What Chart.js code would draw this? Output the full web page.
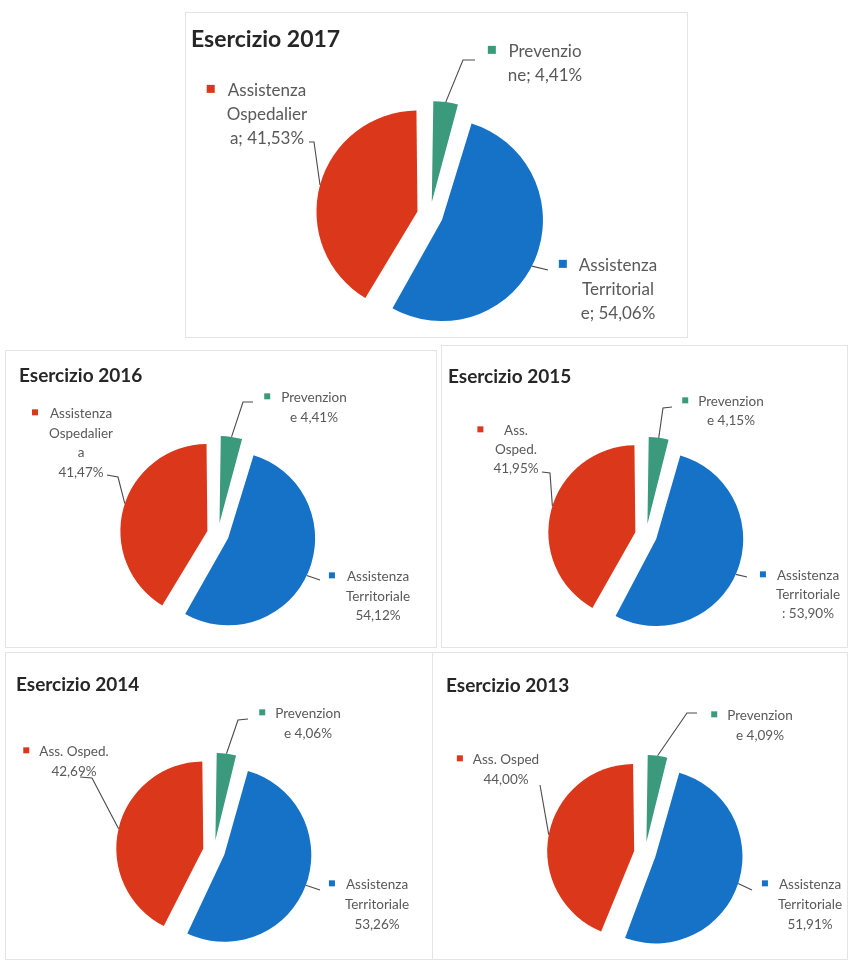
<!DOCTYPE html>
<html>
<head>
<meta charset="utf-8">
<script src="https://cdn.jsdelivr.net/npm/chart.js@4.4.1/dist/chart.umd.min.js"></script>
<style>
  body { margin: 0; background: #fff; width: 848px; height: 960px; position: relative; overflow: hidden; }
  .panel { position: absolute; background: #fff; outline: 1px solid #e4e4e4; outline-offset: -1px; }
  .panel canvas { position: absolute; left: 0; top: 0; }
</style>
</head>
<body>
<script>
// values (percent shares per year)
const years = ['2017', '2016', '2015', '2014', '2013'];
const categories = ['Prevenzione', 'Assistenza Territoriale', 'Assistenza Ospedaliera'];
const prevenzione = [4.41, 4.41, 4.15, 4.06, 4.09];
const territoriale = [54.06, 54.12, 53.90, 53.26, 51.91];
const ospedaliera = [41.53, 41.47, 41.95, 42.69, 44.00];

// data label text as it is wrapped in each chart, {v} = value
const labelText = {
  '2017': [['Prevenzio', 'ne; {v}'], ['Assistenza', 'Territorial', 'e; {v}'], ['Assistenza', 'Ospedalier', 'a; {v}']],
  '2016': [['Prevenzion', 'e {v}'], ['Assistenza', 'Territoriale', '{v}'], ['Assistenza', 'Ospedalier', 'a', '{v}']],
  '2015': [['Prevenzion', 'e {v}'], ['Assistenza', 'Territoriale', ': {v}'], ['Ass.', 'Osped.', '{v}']],
  '2014': [['Prevenzion', 'e {v}'], ['Assistenza', 'Territoriale', '{v}'], ['Ass. Osped.', '{v}']],
  '2013': [['Prevenzion', 'e {v}'], ['Assistenza', 'Territoriale', '{v}'], ['Ass. Osped', '{v}']]
};

const colors = ['#3b9a7c', '#1672c6', '#da371b'];

// page layout: panel box, pie centre/radius, label anchors and leader line points (page px)
const layout = {
  '2017': { box: [185, 12, 503, 326], c: [430, 215], r: 101, off: 52, title: [191, 47], tf: 23, lf: 17, lh: 24, sq: 8, gap: 16,
    labels: [
      { x: 545, y: 57, lead: [0.5, [463, 60], [475, 60]] },
      { x: 618, y: 271, lead: [0.52, [548, 270]] },
      { x: 267, y: 96, lead: [0.5, [314, 142], [309, 142]] }
    ] },
  '2016': { box: [5, 350, 432, 298], c: [218, 534], r: 87, off: 44, title: [19, 382], tf: 19, lf: 13.5, lh: 19.5, sq: 6, gap: 14,
    labels: [
      { x: 314, y: 402, lead: [0.5, [243, 402], [253, 402]] },
      { x: 378, y: 581, lead: [0.51, [320, 580]] },
      { x: 81, y: 418, lead: [0.52, [118, 477], [107, 475]] }
    ] },
  '2015': { box: [441, 345, 407, 303], c: [646, 535], r: 87, off: 44, title: [448, 383], tf: 19, lf: 13.5, lh: 19, sq: 6, gap: 13,
    labels: [
      { x: 731, y: 406, lead: [0.5, [663, 408], [672, 407]] },
      { x: 808, y: 580, lead: [0.51, [747, 577]] },
      { x: 516, y: 435, lead: [0.52, [550, 473], [542, 472]] }
    ] },
  '2014': { box: [5, 652, 430, 308], c: [214, 851], r: 87, off: 44, title: [16, 691], tf: 19, lf: 13.5, lh: 20, sq: 6, gap: 13,
    labels: [
      { x: 308, y: 718, lead: [0.5, [238, 720], [248, 719]] },
      { x: 377, y: 889, lead: [0.5, [320, 890]] },
      { x: 74, y: 756, lead: [0.5, [92, 778], [80, 777]] }
    ] },
  '2013': { box: [432, 652, 416, 308], c: [645, 853], r: 87, off: 44, title: [446, 692], tf: 19, lf: 13.5, lh: 20, sq: 6, gap: 13,
    labels: [
      { x: 760, y: 720, lead: [0.5, [687, 713], [697, 713]] },
      { x: 810, y: 889, lead: [0.5, [752, 890]] },
      { x: 506, y: 764, lead: [0.5, [540, 785]] }
    ] }
};

function fmt(v) {
  return v.toFixed(2).replace('.', ',') + '%';
}

// chart.js grows exploded slices by offset/4 * fix; shrink them back so all slices share one radius
function radiusFix(arc) {
  return 1 - Math.sin(Math.min(Math.PI, arc.circumference));
}

// draws the title, leader lines and the excel-like data labels
const labelPlugin = {
  id: 'excelLabels',
  beforeDatasetsDraw(chart, args, opts) {
    chart.getDatasetMeta(0).data.forEach(arc => {
      const t = (arc.options.offset || 0) / 4;
      arc.outerRadius = opts.L.r - t * radiusFix(arc);
    });
  },
  afterDatasetsDraw(chart, args, opts) {
    const L = opts.L;
    const ox = L.box[0], oy = L.box[1];
    const ctx = chart.ctx;
    const arcs = chart.getDatasetMeta(0).data;
    const values = chart.data.datasets[0].data;
    ctx.save();

    ctx.fillStyle = '#262626';
    ctx.font = 'bold ' + L.tf + 'px Lato, sans-serif';
    ctx.textBaseline = 'alphabetic';
    ctx.textAlign = 'left';
    ctx.fillText('Esercizio ' + opts.year, L.title[0] - ox, L.title[1] - oy);

    arcs.forEach((arc, i) => {
      const p = arc.getProps(['x', 'y', 'startAngle', 'endAngle', 'outerRadius', 'circumference']);
      const lab = L.labels[i];
      const t = (arc.options.offset || 0) / 4;
      const mid = (p.startAngle + p.endAngle) / 2;
      const rr = p.outerRadius + t * radiusFix(p);
      const a = p.startAngle + lab.lead[0] * (p.endAngle - p.startAngle);
      const sx = p.x + Math.cos(mid) * t + Math.cos(a) * rr;
      const sy = p.y + Math.sin(mid) * t + Math.sin(a) * rr;

      ctx.strokeStyle = '#4a4a4a';
      ctx.lineWidth = 1.1;
      ctx.beginPath();
      ctx.moveTo(sx, sy);
      lab.lead.slice(1).forEach(pt => ctx.lineTo(pt[0] - ox, pt[1] - oy));
      ctx.stroke();

      const lines = labelText[opts.year][i].map(s => s.replace('{v}', fmt(values[i])));
      ctx.font = L.lf + 'px Lato, sans-serif';
      ctx.textAlign = 'center';
      ctx.fillStyle = '#595959';
      let w = 0;
      lines.forEach(s => { w = Math.max(w, ctx.measureText(s).width); });
      const cx = lab.x - ox;
      lines.forEach((s, k) => ctx.fillText(s, cx, lab.y - oy + k * L.lh));

      const left = cx - w / 2;
      ctx.fillStyle = colors[i];
      ctx.fillRect(left - L.gap - L.sq / 2, lab.y - oy - L.lf * 0.42 - L.sq / 2, L.sq, L.sq);
    });
    ctx.restore();
  }
};

years.forEach((year, i) => {
  const L = layout[year];
  const [bx, by, W, H] = L.box;
  const div = document.createElement('div');
  div.className = 'panel';
  div.style.left = bx + 'px';
  div.style.top = by + 'px';
  div.style.width = W + 'px';
  div.style.height = H + 'px';
  const canvas = document.createElement('canvas');
  canvas.width = W;
  canvas.height = H;
  div.appendChild(canvas);
  document.body.appendChild(div);

  const px = L.c[0] - bx, py = L.c[1] - by;
  const padding = {
    left: Math.max(0, 2 * px - W), right: Math.max(0, W - 2 * px),
    top: Math.max(0, 2 * py - H), bottom: Math.max(0, H - 2 * py)
  };

  new Chart(canvas, {
    type: 'pie',
    data: {
      labels: categories,
      datasets: [{
        data: [prevenzione[i], territoriale[i], ospedaliera[i]],
        backgroundColor: colors,
        borderWidth: 0,
        offset: L.off
      }]
    },
    options: {
      responsive: false,
      animation: false,
      events: [],
      radius: L.r,
      layout: { padding: padding },
      plugins: {
        legend: { display: false },
        tooltip: { enabled: false },
        excelLabels: { L: L, year: year }
      }
    },
    plugins: [labelPlugin]
  });
});
</script>
</body>
</html>
